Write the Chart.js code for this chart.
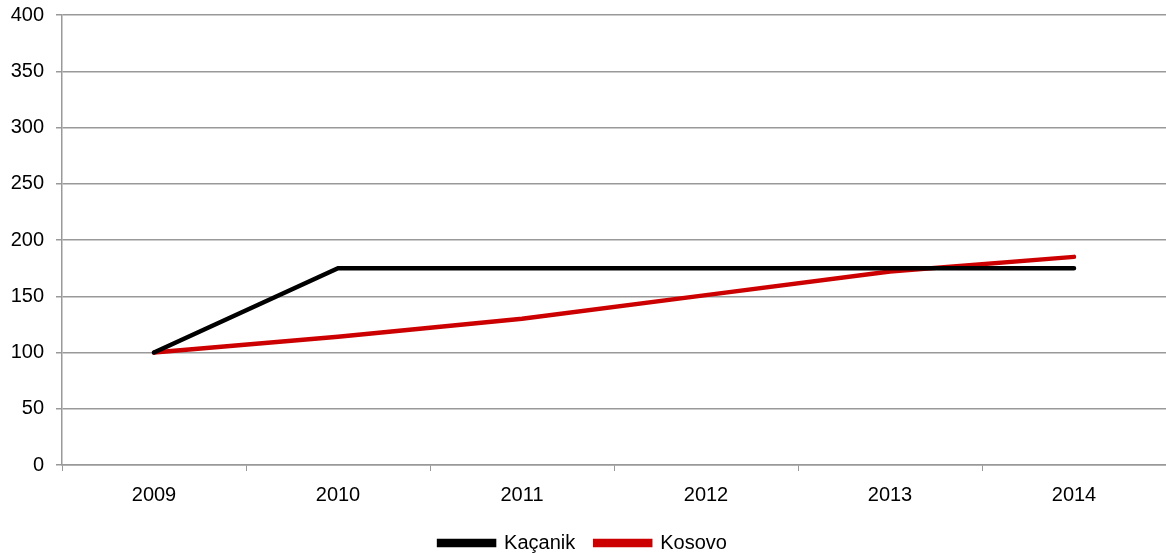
<!DOCTYPE html>
<html>
<head>
<meta charset="utf-8">
<script src="https://cdn.jsdelivr.net/npm/chart.js@4"></script>
<style>
  html, body { margin: 0; padding: 0; background: #fff; }
  #wrap { width: 1166px; height: 553px; }
</style>
</head>
<body>
<div id="wrap"><canvas id="linechart" width="1166" height="553"></canvas></div>
<script>
const years = ['2009', '2010', '2011', '2012', '2013', '2014'];
const kacanik = [100, 175, 175, 175, 175, 175];
const kosovo = [100, 114, 130, 151, 172, 185];
const yTicks = [0, 50, 100, 150, 200, 250, 300, 350, 400];

const ctx = document.getElementById('linechart').getContext('2d');
Chart.defaults.font.family = '"Liberation Sans", Arial, sans-serif';
Chart.defaults.font.size = 20;
Chart.defaults.color = '#000';

const lineChart = new Chart(ctx, {
  type: 'line',
  data: {
    labels: years,
    datasets: [{
      label: 'Kaçanik',
      data: kacanik,
      borderColor: '#000000',
      backgroundColor: '#000000',
      borderWidth: 4.5,
      pointRadius: 0,
      tension: 0,
      borderCapStyle: 'round'
    }, {
      label: 'Kosovo',
      data: kosovo,
      borderColor: '#cc0000',
      backgroundColor: '#cc0000',
      borderWidth: 4.5,
      pointRadius: 0,
      tension: 0,
      borderCapStyle: 'round'
    }]
  },
  options: {
    responsive: false,
    animation: false,
    layout: { padding: { top: 0, right: 0, left: 0, bottom: -10 } },
    plugins: {
      tooltip: { enabled: false },
      legend: {
        position: 'bottom',
        labels: {
          boxWidth: 55,
          boxHeight: 4,
          padding: 20,
          color: '#000',
          font: { size: 20 }
        }
      }
    },
    scales: {
      x: {
        offset: true,
        grid: {
          offset: true,
          drawOnChartArea: false,
          drawTicks: true,
          tickLength: 6,
          color: '#999'
        },
        border: { color: '#999', width: 1.5 },
        ticks: { padding: 12, color: '#000' },
        afterFit: s => { s.height = 48; }
      },
      y: {
        min: 0,
        max: 400,
        afterBuildTicks: s => { s.ticks = yTicks.map(v => ({ value: v })); },
        grid: {
          color: '#999',
          lineWidth: 1.5,
          tickLength: 6
        },
        border: { color: '#999', width: 1.5 },
        ticks: { padding: 12, color: '#000' },
        afterFit: s => { s.width = 62; s.paddingTop = 15; s.paddingBottom = 0; }
      }
    }
  }
});
</script>
</body>
</html>
